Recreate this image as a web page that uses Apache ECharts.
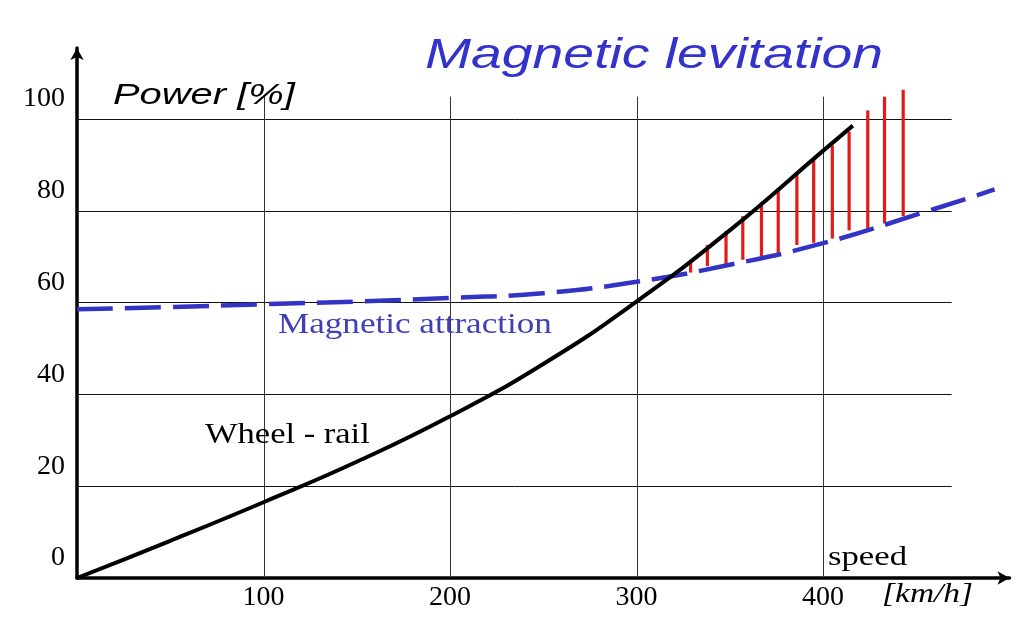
<!DOCTYPE html>
<html>
<head>
<meta charset="utf-8">
<script src="https://cdn.jsdelivr.net/npm/echarts@6/dist/echarts.min.js"></script>
<style>
  html, body { margin: 0; padding: 0; background: #ffffff; }
  #chart { width: 1024px; height: 618px; }
</style>
</head>
<body>
<div id="chart"></div>
<script>
// ---- data ----
const xTickLabels = [100, 200, 300, 400];
const yTickLabels = [0, 20, 40, 60, 80, 100];

// Wheel - rail (black curve)
const wheelSpeed = [0, 50, 100, 150, 200, 250, 300, 350, 400, 416];
const wheelPower = [0, 8.1, 16.5, 25.3, 35.2, 46.6, 60.2, 75.7, 93.0, 98.5];

// Magnetic attraction (blue dashed curve)
const magSpeed = [0, 50, 100, 150, 200, 250, 300, 350, 400, 450, 492];
const magPower = [58.5, 59.0, 59.6, 60.2, 61.0, 62.0, 64.5, 68.2, 72.9, 79.1, 84.6];

// Red difference bars
const redSpeed = [329, 338, 348, 357, 367, 376, 386, 395, 405, 414, 424, 433, 443];
const redLow   = [66.5, 67.9, 68.3, 69.3, 70.1, 70.8, 72.5, 73.0, 73.9, 75.7, 76.1, 77.2, 78.8];
const redHigh  = [69.3, 72.5, 75.5, 78.8, 81.8, 84.9, 87.8, 91.1, 94.2, 97.2, 101.8, 104.8, 106.3];

// extents of the drawn grid lines (data units)
const GRID_X_END = 469;
const GRID_Y_END = 104.8;

const chart = echarts.init(document.getElementById('chart'), null, { renderer: 'canvas' });

const crisp = v => Math.round(v) + 0.5;

const option = {
  animation: false,
  backgroundColor: '#ffffff',
  grid: { left: 77, right: 14.5, top: 48, bottom: 39, containLabel: false },
  xAxis: {
    type: 'value', min: 0, max: 500, interval: 100,
    axisLine: { show: true, lineStyle: { color: '#000', width: 3.5 }, symbol: ['none', 'arrow'], symbolSize: [10, 12] },
    axisTick: { show: false },
    splitLine: { show: false },
    axisLabel: {
      margin: 0, verticalAlign: 'top', lineHeight: 40,
      fontFamily: '"Liberation Serif", serif', fontSize: 28, color: '#000',
      formatter: v => xTickLabels.indexOf(v) >= 0 ? String(v) : ''
    }
  },
  yAxis: {
    type: 'value', min: 0, max: 115.4, interval: 20,
    axisLine: { show: true, lineStyle: { color: '#000', width: 3.5 }, symbol: ['none', 'arrow'], symbolSize: [10, 12] },
    axisTick: { show: false },
    splitLine: { show: false },
    axisLabel: {
      margin: 12, verticalAlign: 'bottom', lineHeight: 40,
      fontFamily: '"Liberation Serif", serif', fontSize: 28, color: '#000',
      formatter: v => yTickLabels.indexOf(v) >= 0 ? String(v) : ''
    }
  },
  series: [
    {
      name: 'hgrid', type: 'custom', z: 1, silent: true, clip: false,
      data: yTickLabels.filter(v => v > 0).map(v => [0, v]),
      renderItem: (params, api) => {
        const v = api.value(1);
        const p1 = api.coord([0, v]);
        const p2 = api.coord([GRID_X_END, v]);
        return { type: 'line', shape: { x1: p1[0], y1: crisp(p1[1]), x2: p2[0], y2: crisp(p2[1]) },
                 style: { stroke: '#111', lineWidth: 1 } };
      }
    },
    {
      name: 'vgrid', type: 'custom', z: 1, silent: true, clip: false,
      data: xTickLabels.map(v => [v, 0]),
      renderItem: (params, api) => {
        const v = api.value(0);
        const p1 = api.coord([v, 0]);
        const p2 = api.coord([v, GRID_Y_END]);
        return { type: 'line', shape: { x1: crisp(p1[0]), y1: p1[1], x2: crisp(p2[0]), y2: p2[1] },
                 style: { stroke: '#333', lineWidth: 1 } };
      }
    },
    {
      name: 'difference', type: 'custom', z: 2, silent: true, clip: false,
      encode: { x: 0, y: [1, 2] },
      data: redSpeed.map((s, i) => [s, redLow[i], redHigh[i]]),
      renderItem: (params, api) => {
        const p1 = api.coord([api.value(0), api.value(1)]);
        const p2 = api.coord([api.value(0), api.value(2)]);
        return { type: 'line', shape: { x1: p1[0], y1: p1[1], x2: p2[0], y2: p2[1] },
                 style: { stroke: '#e11b1b', lineWidth: 3.2 } };
      }
    },
    {
      name: 'Magnetic attraction', type: 'line', z: 3, smooth: 0.5, showSymbol: false, clip: false,
      data: magSpeed.map((s, i) => [s, magPower[i]]),
      lineStyle: { color: '#3434c4', width: 4.5, type: [36, 12], cap: 'butt' }
    },
    {
      name: 'Wheel - rail', type: 'line', z: 4, smooth: 0.5, showSymbol: false, clip: false,
      data: wheelSpeed.map((s, i) => [s, wheelPower[i]]),
      lineStyle: { color: '#000', width: 4 }
    }
  ],
  graphic: [
    { type: 'text', x: 425, y: 56, scaleX: 1.317, z: 10,
      style: { text: 'Magnetic levitation', font: 'italic 42px "Liberation Sans", Arial, sans-serif', fill: '#3333cc', align: 'left', verticalAlign: 'middle' } },
    { type: 'text', x: 113, y: 96, scaleX: 1.33, z: 10,
      style: { text: 'Power [%]', font: 'italic 30px "Liberation Sans", Arial, sans-serif', fill: '#000', align: 'left', verticalAlign: 'middle' } },
    { type: 'text', x: 205, y: 435, scaleX: 1.15, z: 10,
      style: { text: 'Wheel - rail', font: '30px "Liberation Serif", serif', fill: '#000', align: 'left', verticalAlign: 'middle' } },
    { type: 'text', x: 278, y: 325, scaleX: 1.17, z: 10,
      style: { text: 'Magnetic attraction', font: '30px "Liberation Serif", serif', fill: '#3f3fb8', align: 'left', verticalAlign: 'middle' } },
    { type: 'text', x: 828, y: 558, scaleX: 1.24, z: 10,
      style: { text: 'speed', font: '28px "Liberation Serif", serif', fill: '#000', align: 'left', verticalAlign: 'middle' } },
    { type: 'text', x: 882, y: 595, scaleX: 1.24, z: 10,
      style: { text: '[km/h]', font: 'italic 27px "Liberation Serif", serif', fill: '#000', align: 'left', verticalAlign: 'middle' } }
  ]
};

chart.setOption(option);
</script>
</body>
</html>
